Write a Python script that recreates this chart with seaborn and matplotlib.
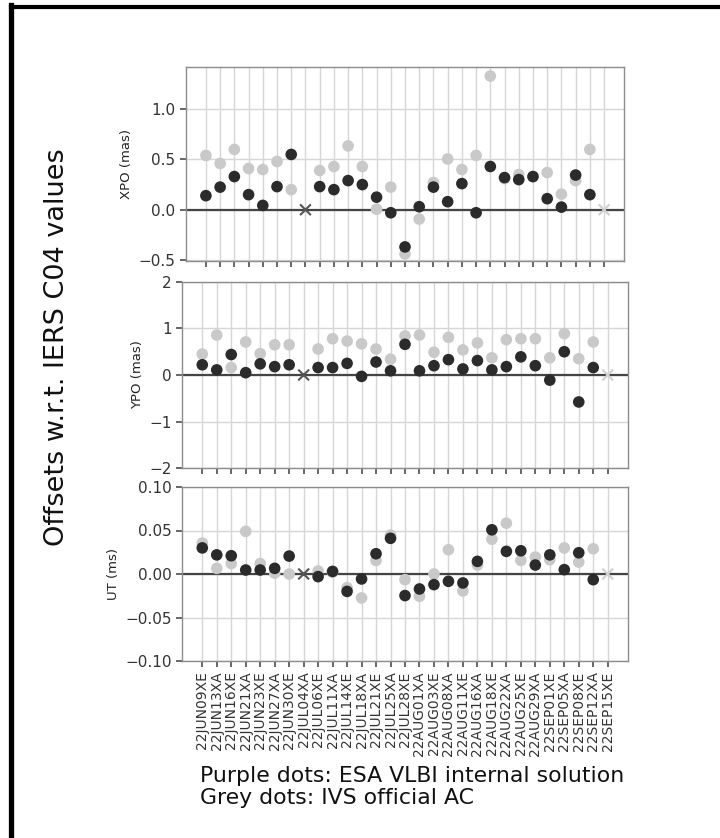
import numpy as np
import pandas as pd
import matplotlib
matplotlib.use("Agg")
import matplotlib.pyplot as plt
from matplotlib.lines import Line2D
import seaborn as sns

# ---------------- data ----------------
sessions = ["22JUN09XE", "22JUN13XA", "22JUN16XE", "22JUN21XA", "22JUN23XE", "22JUN27XA",
            "22JUN30XE", "22JUL04XA", "22JUL06XE", "22JUL11XA", "22JUL14XE", "22JUL18XA",
            "22JUL21XE", "22JUL25XA", "22JUL28XE", "22AUG01XA", "22AUG03XE", "22AUG08XA",
            "22AUG11XE", "22AUG16XA", "22AUG18XE", "22AUG22XA", "22AUG25XE", "22AUG29XA",
            "22SEP01XE", "22SEP05XA", "22SEP08XE", "22SEP12XA", "22SEP15XE"]
nan = np.nan
xpo_esa = [0.14, 0.225, 0.33, 0.15, 0.043, 0.23, 0.55, nan, 0.23, 0.20, 0.29, 0.25,
           0.125, -0.03, -0.37, 0.03, 0.225, 0.08, 0.26, -0.03, 0.43, 0.32, 0.30, 0.33,
           0.11, 0.026, 0.345, 0.15, nan]
xpo_ivs = [0.54, 0.46, 0.60, 0.41, 0.40, 0.48, 0.20, nan, 0.39, 0.43, 0.635, 0.43,
           0.005, 0.225, -0.44, -0.093, 0.27, 0.505, 0.40, 0.54, 1.33, 0.31, 0.35, 0.33,
           0.37, 0.155, 0.29, 0.60, nan]
ypo_esa = [0.22, 0.11, 0.44, 0.05, 0.24, 0.18, 0.22, nan, 0.16, 0.16, 0.25, -0.03,
           0.28, 0.09, 0.66, 0.09, 0.20, 0.33, 0.13, 0.31, 0.11, 0.18, 0.39, 0.20,
           -0.11, 0.50, -0.58, 0.16, nan]
ypo_ivs = [0.45, 0.86, 0.16, 0.71, 0.46, 0.65, 0.65, nan, 0.56, 0.78, 0.73, 0.67,
           0.56, 0.34, 0.84, 0.86, 0.49, 0.81, 0.54, 0.69, 0.37, 0.76, 0.78, 0.78,
           0.37, 0.89, 0.35, 0.71, nan]
ut_esa = [0.030, 0.022, 0.021, 0.0046, 0.0046, 0.0065, 0.0206, nan, -0.003, 0.003, -0.020, -0.0057,
          0.0233, 0.041, -0.0248, -0.0172, -0.0122, -0.0084, -0.0103, 0.0145, 0.0508, 0.026, 0.0267, 0.0103,
          0.022, 0.005, 0.0244, -0.0065, nan]
ut_ivs = [0.0355, 0.0065, 0.012, 0.049, 0.012, 0.001, 0.0, nan, 0.0034, 0.002, -0.0157, -0.0275,
          0.0156, 0.0447, -0.0065, -0.0256, 0.0, 0.0279, -0.0195, 0.0103, 0.040, 0.0584, 0.0156, 0.0195,
          0.0164, 0.030, 0.0137, 0.029, nan]
missing_sessions = ["22JUL04XA", "22SEP15XE"]
missing_tone = ["dark", "light"]

panels = [("XPO (mas)", xpo_esa, xpo_ivs, (-0.51, 1.42), [-0.5, 0.0, 0.5, 1.0], "{:.1f}"),
          ("YPO (mas)", ypo_esa, ypo_ivs, (-2, 2), [-2, -1, 0, 1, 2], "{:.0f}"),
          ("UT (ms)", ut_esa, ut_ivs, (-0.1, 0.1), [-0.10, -0.05, 0.0, 0.05, 0.10], "{:.2f}")]

# ---------------- style ----------------
sns.set_theme(style="whitegrid")
plt.rcParams.update({
    "font.family": ["DejaVu Sans"],
    "axes.edgecolor": "#8c8c8c",
    "axes.linewidth": 1.0,
    "grid.color": "#d6d6d6",
    "grid.linewidth": 1.0,
    "xtick.bottom": True,
    "ytick.left": True,
    "xtick.color": "#555555",
    "ytick.color": "#555555",
    "xtick.major.size": 4,
    "ytick.major.size": 4,
    "xtick.labelcolor": "#333333",
    "ytick.labelcolor": "#333333",
})

W, H = 720, 838
fig = plt.figure(figsize=(W / 100, H / 100), dpi=100)

def ax_px(left, right, top, bottom):
    return fig.add_axes([left / W, 1 - bottom / H, (right - left) / W, (bottom - top) / H])

boxes = [(186, 624, 67, 261), (182, 628, 282, 468), (182, 628, 487, 661)]
palette = {"ESA": "#2b2b2b", "IVS": "#c9c9c9"}
x_colors = {"dark": "#555555", "light": "#cfcfcf"}

for i, (label, esa, ivs, ylim, yticks, fmt) in enumerate(panels):
    ax = ax_px(*boxes[i])
    df = pd.DataFrame({
        "session": sessions * 2,
        "value": list(ivs) + list(esa),
        "source": ["IVS"] * len(sessions) + ["ESA"] * len(sessions),
    })
    sns.scatterplot(data=df, x="session", y="value", hue="source", palette=palette,
                    hue_order=["IVS", "ESA"], s=70, edgecolor="none", legend=False,
                    ax=ax, zorder=3)
    ax.axhline(0, color="#444444", lw=1.6, zorder=2)
    mdf = pd.DataFrame({"session": missing_sessions, "value": [0.0] * len(missing_sessions),
                        "tone": missing_tone})
    sns.scatterplot(data=mdf, x="session", y="value", hue="tone", palette=x_colors,
                    marker="x", s=60, linewidth=1.5, legend=False, ax=ax, zorder=4)
    ax.set_xlim(-1.4, len(sessions) - 1 + 1.4)
    ax.set_ylim(*ylim)
    ax.set_yticks(yticks)
    ax.set_yticklabels([fmt.format(v).replace("-", "\u2212") for v in yticks], fontsize=11)
    ax.set_xticks(range(len(sessions)))
    if i < 2:
        ax.set_xticklabels([])
    else:
        ax.set_xticklabels(sessions, rotation=90, fontsize=10)
    ax.set_xlabel("")
    ax.set_ylabel(label, fontsize=9.5, color="#222222")
    ax.grid(True, color="#d6d6d6")

# big left label
fig.text(57 / W, 1 - 347 / H, "Offsets w.r.t. IERS C04 values", rotation=90,
         fontsize=19.5, ha="center", va="center", color="#111111")

# bottom notes
fig.text(200 / W, 1 - 776 / H, "Purple dots: ESA VLBI internal solution",
         fontsize=15.8, ha="left", va="center", color="#111111")
fig.text(200 / W, 1 - 798 / H, "Grey dots: IVS official AC",
         fontsize=15.8, ha="left", va="center", color="#111111")

# frame lines (left and top)
fig.add_artist(Line2D([10.5 / W, 10.5 / W], [0, 1 - 5 / H], color="black", lw=3.8,
                      solid_capstyle="projecting"))
fig.add_artist(Line2D([10.5 / W, 1], [1 - 7 / H, 1 - 7 / H], color="black", lw=3.0,
                      solid_capstyle="projecting"))

fig.savefig("out.png", dpi=100)
